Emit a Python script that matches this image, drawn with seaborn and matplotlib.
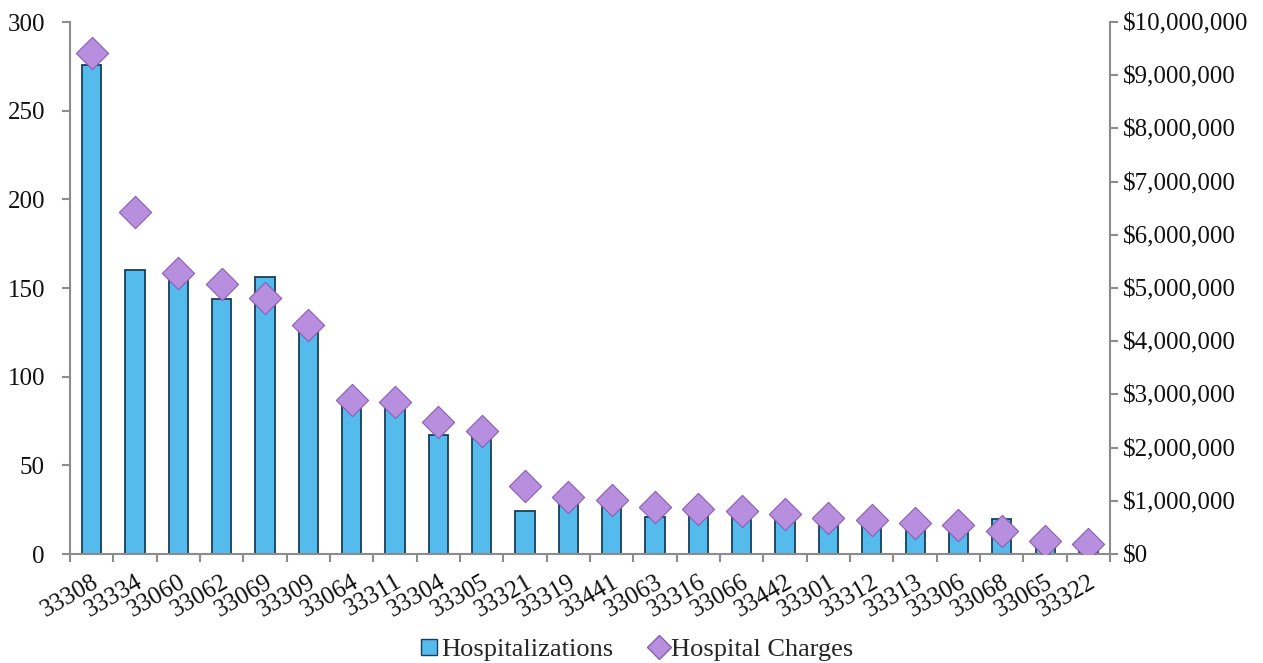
import numpy as np
import pandas as pd
import matplotlib
matplotlib.use("Agg")
import matplotlib.pyplot as plt
from matplotlib.ticker import FuncFormatter, FixedLocator, MultipleLocator
from matplotlib.lines import Line2D
import seaborn as sns

zips = ["33308", "33334", "33060", "33062", "33069", "33309", "33064", "33311",
        "33304", "33305", "33321", "33319", "33441", "33063", "33316", "33066",
        "33442", "33301", "33312", "33313", "33306", "33068", "33065", "33322"]
hospitalizations = [276, 160, 155, 144, 156, 127, 85, 85, 67, 68, 24, 29, 28, 21,
                    23, 22, 21, 19, 17, 16, 15, 20, 6, 3]
charges = [9420000, 6420000, 5280000, 5080000, 4810000, 4300000, 2890000, 2860000,
           2490000, 2320000, 1270000, 1070000, 1020000, 890000, 850000, 800000,
           750000, 680000, 630000, 590000, 550000, 440000, 240000, 180000]

df = pd.DataFrame({"zip": zips, "hosp": hospitalizations, "charges": charges})
df["pos"] = range(len(df))

sns.set_theme(style="white")
plt.rcParams["font.family"] = ["Liberation Serif", "DejaVu Serif"]

fig = plt.figure(figsize=(12.63, 6.63), dpi=100)
ax = fig.add_axes([0.0554, 0.1644, 0.8235, 0.8024])

bar_color = "#55BBEC"
edge_color = "#173F5C"
sns.barplot(data=df, x="zip", y="hosp", order=zips, ax=ax, color=bar_color,
            width=0.44, edgecolor=edge_color, linewidth=1.3, saturation=1)

ax2 = ax.twinx()
diamond_face = "#B88EDE"
diamond_edge = "#8A5EB3"
sns.scatterplot(data=df, x="pos", y="charges", ax=ax2, marker="D", s=270,
                color=diamond_face, edgecolor=diamond_edge, linewidth=0.8,
                zorder=5, legend=False)

n = len(zips)
ax.set_xlim(-0.5, n - 0.5)
ax2.set_xlim(-0.5, n - 0.5)
ax.set_ylim(0, 300)
ax2.set_ylim(0, 10_000_000)
ax.yaxis.set_major_locator(MultipleLocator(50))
ax2.yaxis.set_major_locator(MultipleLocator(1_000_000))
ax2.yaxis.set_major_formatter(FuncFormatter(lambda v, p: "${:,.0f}".format(v)))

ax.set_xlabel("")
ax.set_ylabel("")
ax2.set_xlabel("")
ax2.set_ylabel("")

spine_col = "#8C8C8C"
for a in (ax, ax2):
    a.spines["top"].set_visible(False)
    for s in ("left", "right", "bottom"):
        a.spines[s].set_color(spine_col)
        a.spines[s].set_linewidth(1.5)
ax.spines["right"].set_visible(False)
ax2.spines["left"].set_visible(False)
ax2.spines["bottom"].set_visible(False)

fs = 18
ax.tick_params(axis="y", direction="out", length=6, width=1.5, color=spine_col,
               labelsize=fs, left=True, pad=12)
ax2.tick_params(axis="y", direction="out", length=6, width=1.5, color=spine_col,
                labelsize=fs, right=True, pad=3)

ax.set_xticks(range(n))
ax.set_xticklabels(zips, rotation=30, ha="right", rotation_mode="anchor")
ax.xaxis.set_minor_locator(FixedLocator(np.arange(-0.5, n, 1.0)))
ax.tick_params(axis="x", which="major", length=0, labelsize=fs, pad=12)
ax.tick_params(axis="x", which="minor", direction="out", length=6, width=1.5,
               color=spine_col, bottom=True)

for a in (ax, ax2):
    for lab in a.get_yticklabels() + a.get_xticklabels():
        lab.set_color("#111111")

handles = [
    Line2D([], [], marker="s", linestyle="none", markersize=11,
           markerfacecolor=bar_color, markeredgecolor=edge_color),
    Line2D([], [], marker="D", linestyle="none", markersize=12,
           markerfacecolor=diamond_face, markeredgecolor=diamond_edge),
]
fig.legend(handles, ["Hospitalizations", "Hospital Charges"], loc="center",
           bbox_to_anchor=(0.5036, 0.02), ncol=2, frameon=False, fontsize=19,
           handletextpad=0.05, columnspacing=1.35, handlelength=0.8)

fig.savefig("out.png", dpi=100)
